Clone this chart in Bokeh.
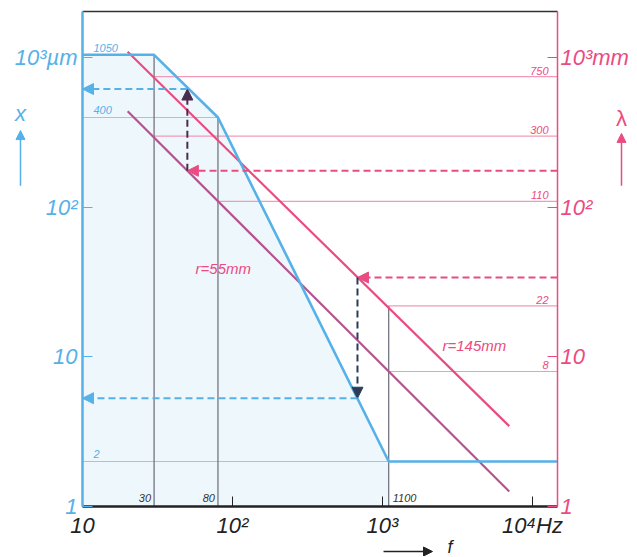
from bokeh.plotting import figure
from bokeh.models import Range1d, LogAxis, FixedTicker, Arrow, NormalHead
from bokeh.embed import file_html
from bokeh.resources import INLINE
from bokeh.core.properties import value

# ---------------- data ----------------
F_MIN, F_MAX = 10, 14680          # frequency axis extent (Hz)
Y_MIN, Y_MAX = 1, 2050            # x (µm) / λ (mm) axis extent
curve_f = [10, 30, 80, 1100, 14680]          # Hz
curve_x = [1050, 1050, 400, 2, 2]            # displacement x in µm
r55_f = [20, 7000]
r55_lam = [440, 1.26]                        # λ in mm, r = 55 mm
r145_f = [20, 7000]
r145_lam = [1100, 3.45]                      # λ in mm, r = 145 mm
lam_levels = [750, 300, 110, 22, 8]
lam_start_f = [30, 30, 80, 1100, 1100]
x_levels = [1050, 400, 2]
x_level_end_f = [30, 80, 1100]
mark_f = [30, 80, 1100]
mark_top = [1050, 400, 22]
mark_labels = ["30", "80", "1100"]
ex1_f, ex1_lam, ex1_x = 50, 176, 620
ex2_f, ex2_lam, ex2_x = 681, 34, 5.3
y_ticks = [1, 10, 100, 1000]
x_ticks = [10, 100, 1000, 10000]
left_labels = {1: "1", 10: "10", 100: "10²", 1000: "10³µm"}
right_labels = {1: "1", 10: "10", 100: "10²", 1000: "10³mm"}
bottom_labels = {10: "10", 100: "10²", 1000: "10³", 10000: "10⁴Hz"}

# ---------------- style ----------------
FONT = "Liberation Sans"
BLUE = "#55b1e8"
BLUE_L = "#8fcdf0"
PINK = "#ea4c82"
PINK_L = "#f49ab8"
PURPLE = "#b4548f"
DARK = "#4a2c4c"
NAVY = "#2c3c58"
GREY = "#6a6a78"
BLACK = "#222222"

# the frame covers the whole canvas; the axes sit at fixed data locations
X_LO, X_HI = 2.84, 49350
YV_LO, YV_HI = 0.463, 2424

p = figure(width=636, height=556, x_axis_type="log", y_axis_type="log",
           x_range=Range1d(X_LO, X_HI), y_range=Range1d(YV_LO, YV_HI),
           output_backend="svg", toolbar_location=None,
           min_border_left=0, min_border_right=0, min_border_top=0, min_border_bottom=0)
p.grid.visible = False
p.outline_line_color = None
p.background_fill_color = "white"
p.border_fill_color = "white"

def style_axis(ax, color, labels, ticks, size="22px"):
    ax.ticker = FixedTicker(ticks=ticks)
    ax.major_label_overrides = labels
    ax.axis_line_color = color
    ax.major_tick_line_color = color
    ax.minor_tick_line_color = None
    ax.major_tick_in = 10
    ax.major_tick_out = 0
    ax.major_label_text_color = color
    ax.major_label_text_font = FONT
    ax.major_label_text_font_style = "italic"
    ax.major_label_text_font_size = size

# pale fill under displacement curve
p.varea(x=curve_f[:4], y1=[Y_MIN] * 4, y2=curve_x[:4], fill_color="#eef7fc")

# thin helper lines
p.segment(x0=lam_start_f, y0=lam_levels, x1=[F_MAX] * len(lam_levels), y1=lam_levels,
          line_color=PINK_L, line_width=1.2)
p.segment(x0=[F_MIN] * 3, y0=x_levels, x1=x_level_end_f, y1=x_levels,
          line_color=BLUE_L, line_width=1.2)
p.segment(x0=mark_f, y0=[Y_MIN] * 3, x1=mark_f, y1=mark_top,
          line_color=GREY, line_width=1.2)
# top border of the chart
p.segment(x0=[F_MIN], y0=[Y_MAX], x1=[F_MAX], y1=[Y_MAX], line_color="#333333", line_width=1.5)

# main lines
p.line(r55_f, r55_lam, line_color=PURPLE, line_width=2.2)
p.line(r145_f, r145_lam, line_color=PINK, line_width=2.2)
p.line(curve_f, curve_x, line_color=BLUE, line_width=2.6)

# axes at fixed locations
la = p.left[0]
style_axis(la, BLUE, left_labels, y_ticks)
la.fixed_location = F_MIN
la.bounds = (Y_MIN, Y_MAX)
la.axis_line_width = 2.5
la.major_label_standoff = 5
ba = p.below[0]
style_axis(ba, BLACK, bottom_labels, x_ticks)
ba.fixed_location = Y_MIN
ba.bounds = (F_MIN, F_MAX)
ba.axis_line_width = 2.5
ba.major_label_standoff = 6
ra = LogAxis(fixed_location=F_MAX, bounds=(Y_MIN, Y_MAX))
style_axis(ra, PINK, right_labels, y_ticks)
ra.axis_line_width = 1.5
ra.major_label_standoff = 3
p.add_layout(ra, "right")

# small value labels
p.text(x=[F_MAX] * len(lam_levels), y=lam_levels, text=[str(v) for v in lam_levels],
       x_offset=-9, y_offset=-2, text_align="right", text_baseline="bottom",
       text_color=PINK, text_font=value(FONT), text_font_style="italic", text_font_size="11px")
p.text(x=[F_MIN] * 3, y=x_levels, text=[str(v) for v in x_levels],
       x_offset=11, y_offset=-3, text_align="left", text_baseline="bottom",
       text_color=BLUE, text_font=value(FONT), text_font_style="italic", text_font_size="11px")
p.text(x=mark_f[:2], y=[Y_MIN] * 2, text=mark_labels[:2],
       x_offset=-3, y_offset=-5, text_align="right", text_baseline="bottom",
       text_color="#333333", text_font=value(FONT), text_font_style="italic", text_font_size="11px")
p.text(x=mark_f[2:], y=[Y_MIN], text=mark_labels[2:],
       x_offset=4, y_offset=-5, text_align="left", text_baseline="bottom",
       text_color="#333333", text_font=value(FONT), text_font_style="italic", text_font_size="11px")
p.text(x=[56.7], y=[39], text=["r=55mm"], text_align="left", text_baseline="middle",
       text_color=PINK, text_font=value(FONT), text_font_style="italic", text_font_size="15px")
p.text(x=[2510], y=[11.9], text=["r=145mm"], text_align="left", text_baseline="middle",
       text_color=PINK, text_font=value(FONT), text_font_style="italic", text_font_size="15px")

# axis names with arrows
p.text(x=[3.86], y=[425], text=["x"], text_align="center", text_baseline="middle",
       text_color=BLUE, text_font=value(FONT), text_font_style="italic", text_font_size="22px")
p.text(x=[39200], y=[394], text=["λ"], text_align="center", text_baseline="middle",
       text_color=PINK, text_font=value(FONT), text_font_size="22px")
p.text(x=[2712], y=[0.54], text=["f"], text_align="left", text_baseline="middle",
       text_color=BLACK, text_font=value(FONT), text_font_style="italic", text_font_size="18px")

def arrow(x0, y0, x1, y1, color, dash="solid", width=2, size=11):
    p.add_layout(Arrow(end=NormalHead(size=size, fill_color=color, line_color=color),
                       x_start=x0, y_start=y0, x_end=x1, y_end=y1,
                       line_color=color, line_width=width, line_dash=dash))

arrow(3.86, 140, 3.86, 327, BLUE, width=1.5, size=9)
arrow(39200, 140, 39200, 313, PINK, width=1.5, size=9)
arrow(1016, 0.5, 2154, 0.5, BLACK, width=1.5, size=9)

# worked example 1 (r = 55 mm)
arrow(F_MAX, ex1_lam, ex1_f, ex1_lam, PINK, dash="7 4")
arrow(ex1_f, ex1_lam, ex1_f, ex1_x, DARK, dash="7 4")
arrow(ex1_f, ex1_x, F_MIN, ex1_x, BLUE, dash="7 4")
# worked example 2 (r = 145 mm)
arrow(F_MAX, ex2_lam, ex2_f, ex2_lam, PINK, dash="7 4")
arrow(ex2_f, ex2_lam, ex2_f, ex2_x, NAVY, dash="7 4")
arrow(ex2_f, ex2_x, F_MIN, ex2_x, BLUE, dash="7 4")

open("out.html", "w").write(file_html(p, INLINE))
